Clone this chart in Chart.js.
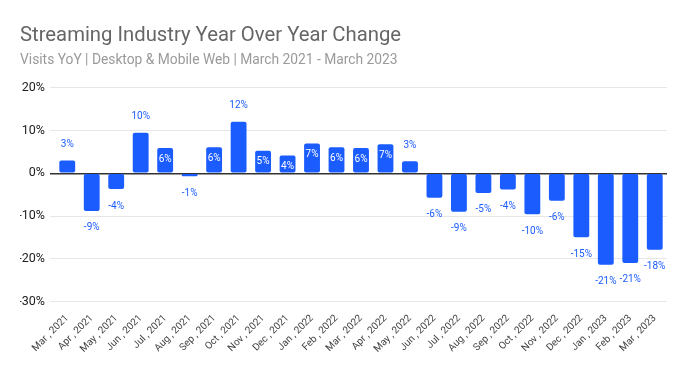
<!DOCTYPE html>
<html>
<head>
<meta charset="utf-8">
<script src="https://cdn.jsdelivr.net/npm/chart.js@4/dist/chart.umd.min.js"></script>
<style>
  html, body { margin: 0; padding: 0; background: #fff; }
  #wrap { width: 690px; height: 373px; }
</style>
</head>
<body>
<div id="wrap"><canvas id="bar-chart"></canvas></div>
<script>
// 월별 라벨 / 전년 대비 변화율 (%)
const months = ["Mar , 2021", "Apr , 2021", "May , 2021", "Jun , 2021", "Jul , 2021", "Aug , 2021", "Sep , 2021",
    "Oct , 2021", "Nov , 2021", "Dec , 2021", "Jan , 2022", "Feb , 2022", "Mar , 2022", "Apr , 2022",
    "May , 2022", "Jun , 2022", "Jul , 2022", "Aug , 2022", "Sep , 2022", "Oct , 2022", "Nov , 2022",
    "Dec , 2022", "Jan , 2023", "Feb , 2023", "Mar , 2023"];
const yoyChange = [3.0, -8.8, -3.7, 9.5, 5.9, -0.7, 6.1, 12.1, 5.3, 4.2, 7.0, 6.1, 5.9, 6.8,
    2.8, -5.7, -9.0, -4.6, -3.8, -9.6, -6.4, -15.0, -21.4, -21.0, -17.9];
const yTicks = [-30, -20, -10, 0, 10, 20];

const barColor = '#1b5cff';

// 막대 값 라벨 그리기
const valueLabels = {
    id: 'valueLabels',
    afterDatasetsDraw(chart) {
        const ctx = chart.ctx;
        const meta = chart.getDatasetMeta(0);
        ctx.save();
        ctx.font = '10px Roboto';
        ctx.textAlign = 'center';
        ctx.textBaseline = 'middle';
        meta.data.forEach((bar, i) => {
            const v = yoyChange[i];
            const text = Math.round(v) + '%';
            let y;
            if (v >= 4 && v < 9) {
                ctx.fillStyle = '#ffffff';
                y = bar.y + 11;
            } else if (v >= 0) {
                ctx.fillStyle = barColor;
                y = bar.y - 16;
            } else {
                ctx.fillStyle = barColor;
                y = bar.y + 17;
            }
            ctx.fillText(text, bar.x, y);
        });
        ctx.restore();
    }
};

const chart = new Chart(document.getElementById('bar-chart').getContext('2d'), {
    type: 'bar',
    data: {
        labels: months,
        datasets: [{
            data: yoyChange,
            backgroundColor: barColor,
            borderRadius: 2,
            borderSkipped: false,
            barPercentage: 0.78,
            categoryPercentage: 0.83
        }]
    },
    options: {
        responsive: true,
        maintainAspectRatio: false,
        animation: false,
        layout: { padding: { left: 20, right: 23, top: 20, bottom: 15 } },
        plugins: {
            legend: { display: false },
            tooltip: { enabled: false },
            title: {
                display: true,
                text: 'Streaming Industry Year Over Year Change',
                align: 'start',
                color: '#666666',
                font: { family: 'Roboto', size: 20.3, weight: 'normal' },
                padding: { top: 4, bottom: 4 }
            },
            subtitle: {
                display: true,
                text: 'Visits YoY | Desktop & Mobile Web | March 2021 - March 2023',
                align: 'start',
                color: '#9a9a9a',
                font: { family: 'Roboto', size: 13.8, weight: 'normal' },
                padding: { bottom: 19 }
            }
        },
        scales: {
            x: {
                grid: { display: false },
                border: { display: false },
                ticks: {
                    color: '#444444',
                    font: { family: 'Roboto', size: 10 },
                    minRotation: 45,
                    maxRotation: 45,
                    autoSkip: false
                }
            },
            y: {
                min: -30,
                max: 20,
                afterBuildTicks(axis) {
                    axis.ticks = yTicks.map(v => ({ value: v }));
                },
                afterFit(axis) {
                    axis.width = 35; // 눈금 라벨 영역 폭 고정
                },
                border: { display: false },
                grid: {
                    color: c => c.tick && c.tick.value === 0 ? '#333333' : '#e6e6e6',
                    lineWidth: c => c.tick && c.tick.value === 0 ? 1.5 : 1,
                    drawTicks: true,
                    tickLength: 5
                },
                ticks: {
                    color: '#222222',
                    font: { family: 'Roboto', size: 12.5 },
                    padding: 5,
                    callback: v => v + '%'
                }
            }
        }
    },
    plugins: [valueLabels]
});
</script>
</body>
</html>
